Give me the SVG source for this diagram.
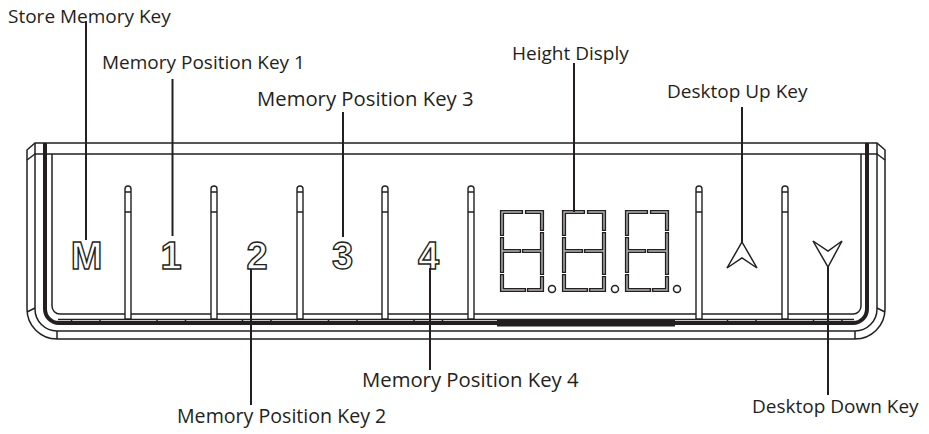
<svg xmlns="http://www.w3.org/2000/svg" width="929" height="434" viewBox="0 0 929 434">
<style>
.ln{fill:none;stroke:#231f20;stroke-width:1.5}
.thk{fill:none;stroke:#231f20;stroke-width:4}
.ld{fill:none;stroke:#231f20;stroke-width:2}
.lbl{font-family:"Open Sans","Liberation Sans",sans-serif;font-size:19px;fill:#231f20}
.key{font-family:"Liberation Sans",Arial,sans-serif;font-size:38px;font-weight:bold;fill:#fff;stroke:#231f20;stroke-width:1.4;text-anchor:middle}
.segb{fill:none;stroke:#231f20;stroke-width:4.2;stroke-linecap:square}
.segw{fill:none;stroke:#b5b5b5;stroke-width:1.4;stroke-linecap:square}
.div{fill:#fff;stroke:#231f20;stroke-width:1.4}
</style>
<defs>
<path id="d8" d="M0,22V0H19M25,0H40V17M40,22V39H22M17,39H0V27M0,39V59M0,64V78H22M27,78H40V66M40,61V39"/>
<g id="dv">
<path class="div" d="M-3,134V4A3,3 0 0 1 3,4V134Z"/>
<line class="ln" x1="-3" y1="7" x2="3" y2="7" stroke-width="1"/>
<line class="ln" x1="-3" y1="27" x2="3" y2="27" stroke-width="1"/>
</g>
</defs>
<rect width="929" height="434" fill="#fff"/>
<g id="panel">
<path class="ln" d="M27,150V309A30,30 0 0 0 57,339H855A30,30 0 0 0 885,309V150L877,143H35Z"/>
<path class="ln" d="M35,143V309A22,22 0 0 0 57,331H855A22,22 0 0 0 877,309V143"/>
<line class="ln" x1="27" y1="160" x2="35" y2="154"/>
<line class="ln" x1="877" y1="154" x2="885" y2="160"/>
<line class="ln" x1="27" y1="312" x2="35" y2="308"/>
<line class="ln" x1="877" y1="308" x2="885" y2="312"/>
<line class="ln" x1="57" y1="331" x2="57" y2="339"/>
<line class="ln" x1="855" y1="331" x2="855" y2="339"/>
<line class="ln" x1="35" y1="154" x2="877" y2="154"/>
<path class="thk" d="M45,143V309A14,14 0 0 0 59,323H853A14,14 0 0 0 867,309V143"/>
<path class="ln" d="M52,154V306A8,8 0 0 0 60,314H853A8,8 0 0 0 861,306V154"/>
<line class="ln" x1="58" y1="319.5" x2="854" y2="319.5" stroke-width="1"/>
<rect x="497" y="320" width="178" height="6.5" fill="#231f20"/>
<path class="ln" stroke-width="1" d="M71.5,319.5V322M100,319.5V322M157,319.5V322M185.5,319.5V322M242.5,319.5V322M271,319.5V322M328.5,319.5V322M357,319.5V322M414,319.5V322M442.5,319.5V322M727.5,319.5V322M756,319.5V322M813.5,319.5V322M842,319.5V322"/>
<use href="#dv" x="128" y="185"/>
<use href="#dv" x="214" y="185"/>
<use href="#dv" x="300" y="185"/>
<use href="#dv" x="385" y="185"/>
<use href="#dv" x="471" y="185"/>
<use href="#dv" x="699" y="185"/>
<use href="#dv" x="785" y="185"/>
</g>
<g id="keyM"><text class="key" x="86.5" y="269">M</text></g>
<g id="key1"><text class="key" x="171" y="269">1</text></g>
<g id="key2"><text class="key" x="257" y="269">2</text></g>
<g id="key3"><text class="key" x="342.5" y="269">3</text></g>
<g id="key4"><text class="key" x="428.5" y="269">4</text></g>
<g id="display">
<g transform="translate(502,212)"><use href="#d8" class="segb"/><use href="#d8" class="segw"/></g>
<g transform="translate(564,212)"><use href="#d8" class="segb"/><use href="#d8" class="segw"/></g>
<g transform="translate(627,212)"><use href="#d8" class="segb"/><use href="#d8" class="segw"/></g>
<circle class="ln" cx="552" cy="289" r="3.5"/>
<circle class="ln" cx="615" cy="289" r="3.5"/>
<circle class="ln" cx="677" cy="289" r="3.5"/>
</g>
<g id="keyUp"><path class="ln" stroke-width="1.8" d="M742,242L757,268L742,258L727,268Z"/></g>
<g id="keyDown"><path class="ln" stroke-width="1.8" d="M813,241L828,251L842,241L828,267Z"/></g>
<g id="connectors">
<line class="ld" x1="86" y1="21" x2="86" y2="240"/>
<line class="ld" x1="172.5" y1="79" x2="172.5" y2="236"/>
<line class="ld" x1="343" y1="112" x2="343" y2="237"/>
<line class="ld" x1="574" y1="63" x2="574" y2="212"/>
<line class="ld" x1="742" y1="107" x2="742" y2="242"/>
<line class="ld" x1="251" y1="269" x2="251" y2="405"/>
<line class="ld" x1="430" y1="268" x2="430" y2="370"/>
<line class="ld" x1="828" y1="267" x2="828" y2="395"/>
</g>
<g id="labels">
<text class="lbl" x="8" y="23">Store Memory Key</text>
<text class="lbl" x="102" y="69">Memory Position Key 1</text>
<text class="lbl" x="257" y="106" style="font-size:20.3px">Memory Position Key 3</text>
<text class="lbl" x="512" y="60">Height Disply</text>
<text class="lbl" x="667" y="98">Desktop Up Key</text>
<text class="lbl" x="362" y="387" style="font-size:20.3px">Memory Position Key 4</text>
<text class="lbl" x="752" y="413">Desktop Down Key</text>
<text class="lbl" x="177" y="423" style="font-size:19.6px">Memory Position Key 2</text>
</g>
</svg>
